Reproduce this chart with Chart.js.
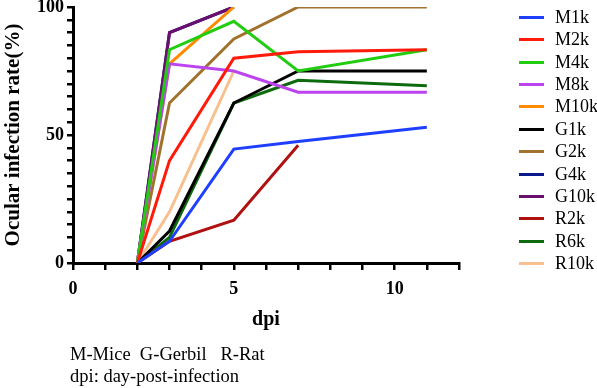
<!DOCTYPE html>
<html>
<head>
<meta charset="utf-8">
<script src="https://cdn.jsdelivr.net/npm/chart.js@4"></script>
<style>
  body { margin: 0; background: #fff; }
  #wrap { position: relative; width: 597px; height: 388px; }
  #chart { position: absolute; left: 0; top: 0; }
  .note { position: absolute; left: 70px; font: 18.5px "Liberation Serif", "Times New Roman", serif; white-space: pre; color: #000; }
  #legend { position: absolute; left: 519px; top: 0; font: 18px "Liberation Serif", "Times New Roman", serif; color: #000; }
  .lg-row { position: absolute; left: 0; height: 20px; line-height: 20px; white-space: nowrap; }
  .lg-line { position: absolute; left: 0; top: 9px; width: 25px; height: 3px; }
  .lg-text { position: absolute; left: 36px; top: 0; }
</style>
</head>
<body>
<div id="wrap">
  <canvas id="chart" width="597" height="388"></canvas>
  <div id="legend"></div>
  <div class="note" style="top:344px">M-Mice  G-Gerbil   R-Rat</div>
  <div class="note" style="top:366px">dpi: day-post-infection</div>
</div>
<script>
// days post infection where readings were taken
const dpi = [2, 3, 5, 7, 11];

const seriesNames = ["M1k", "M2k", "M4k", "M8k", "M10k", "G1k", "G2k", "G4k", "G10k", "R2k", "R6k", "R10k"];
const seriesColors = ["#1f3fff", "#ff1a0a", "#22cc10", "#bb44ee", "#ff8c00", "#000000",
                      "#a0722e", "#0a1a8c", "#6b0f6e", "#b01010", "#0d6b0d", "#f9c08f"];

// infection rate (%) at each dpi, shorter arrays stop early
const M1k  = [0, 8.5, 44.5, 47.5, 53];
const M2k  = [0, 40, 80, 82.5, 83.3];
const M4k  = [0, 83.3, 94.4, 75, 83.3];
const M8k  = [0, 77.8, 75, 66.7, 66.7];
const M10k = [0, 77.8, 100];
const G1k  = [0, 12.5, 62.5, 75, 75];
const G2k  = [0, 62.5, 87.5, 100, 100];
const G4k  = [0, 90, 100];
const G10k = [0, 90, 100];
const R2k  = [0, 8.5, 16.7, 46];
const R6k  = [0, 10, 62.5, 71.4, 69.2];
const R10k = [0, 20, 75];

const seriesValues = [M1k, M2k, M4k, M8k, M10k, G1k, G2k, G4k, G10k, R2k, R6k, R10k];

const serif = "'Liberation Serif', 'Times New Roman', serif";

const datasets = seriesNames.map((name, i) => ({
    label: name,
    data: seriesValues[i].map((v, j) => ({ x: dpi[j], y: v })),
    borderColor: seriesColors[i],
    backgroundColor: seriesColors[i],
    borderWidth: 3,
    pointRadius: 0,
    tension: 0,
    order: name === "G4k" ? 1 : 0   // G4k sits under G10k
}));

const chart = new Chart(document.getElementById('chart'), {
    type: 'line',
    data: { datasets: datasets },
    options: {
        responsive: false,
        animation: false,
        layout: { padding: { top: 7, right: 138, bottom: 56, left: 0 } },
        plugins: { legend: { display: false }, tooltip: { enabled: false } },
        scales: {
            x: {
                type: 'linear', min: 0, max: 12,
                afterFit: s => { s.height = 69; s.paddingLeft = 0; s.paddingRight = 0; },
                ticks: {
                    stepSize: 1, autoSkip: false, maxRotation: 0, padding: 9,
                    color: '#000', font: { family: serif, size: 18, weight: 'bold' },
                    callback: v => (v % 5 === 0 ? v : '')
                },
                grid: { drawOnChartArea: false, tickLength: 7, color: '#000', lineWidth: 2.5 },
                border: { color: '#000', width: 3 },
                title: { display: true, text: 'dpi', color: '#000', padding: 0,
                         font: { family: serif, size: 20, weight: 'bold' } }
            },
            y: {
                min: 0, max: 100,
                afterFit: s => { s.width = 73; s.paddingTop = 0; s.paddingBottom = 0; },
                ticks: {
                    stepSize: 5, autoSkip: false, padding: 3,
                    color: '#000', font: { family: serif, size: 18, weight: 'bold' },
                    callback: v => (v % 50 === 0 ? v : '')
                },
                grid: { drawOnChartArea: false, tickLength: 6, color: '#000', lineWidth: 2.5 },
                border: { color: '#000', width: 3 },
                title: { display: true, text: 'Ocular infection rate(%)', color: '#000', padding: 1,
                         font: { family: serif, size: 21, weight: 'bold' } }
            }
        }
    }
});

// html legend, one row per dataset
const legend = document.getElementById('legend');
chart.data.datasets.forEach((ds, i) => {
    const row = document.createElement('div');
    row.className = 'lg-row';
    row.style.top = (17 + i * 22.36 - 10) + 'px';
    row.innerHTML = '<span class="lg-line" style="background:' + ds.borderColor + '"></span>' +
                    '<span class="lg-text">' + ds.label + '</span>';
    legend.appendChild(row);
});
</script>
</body>
</html>
